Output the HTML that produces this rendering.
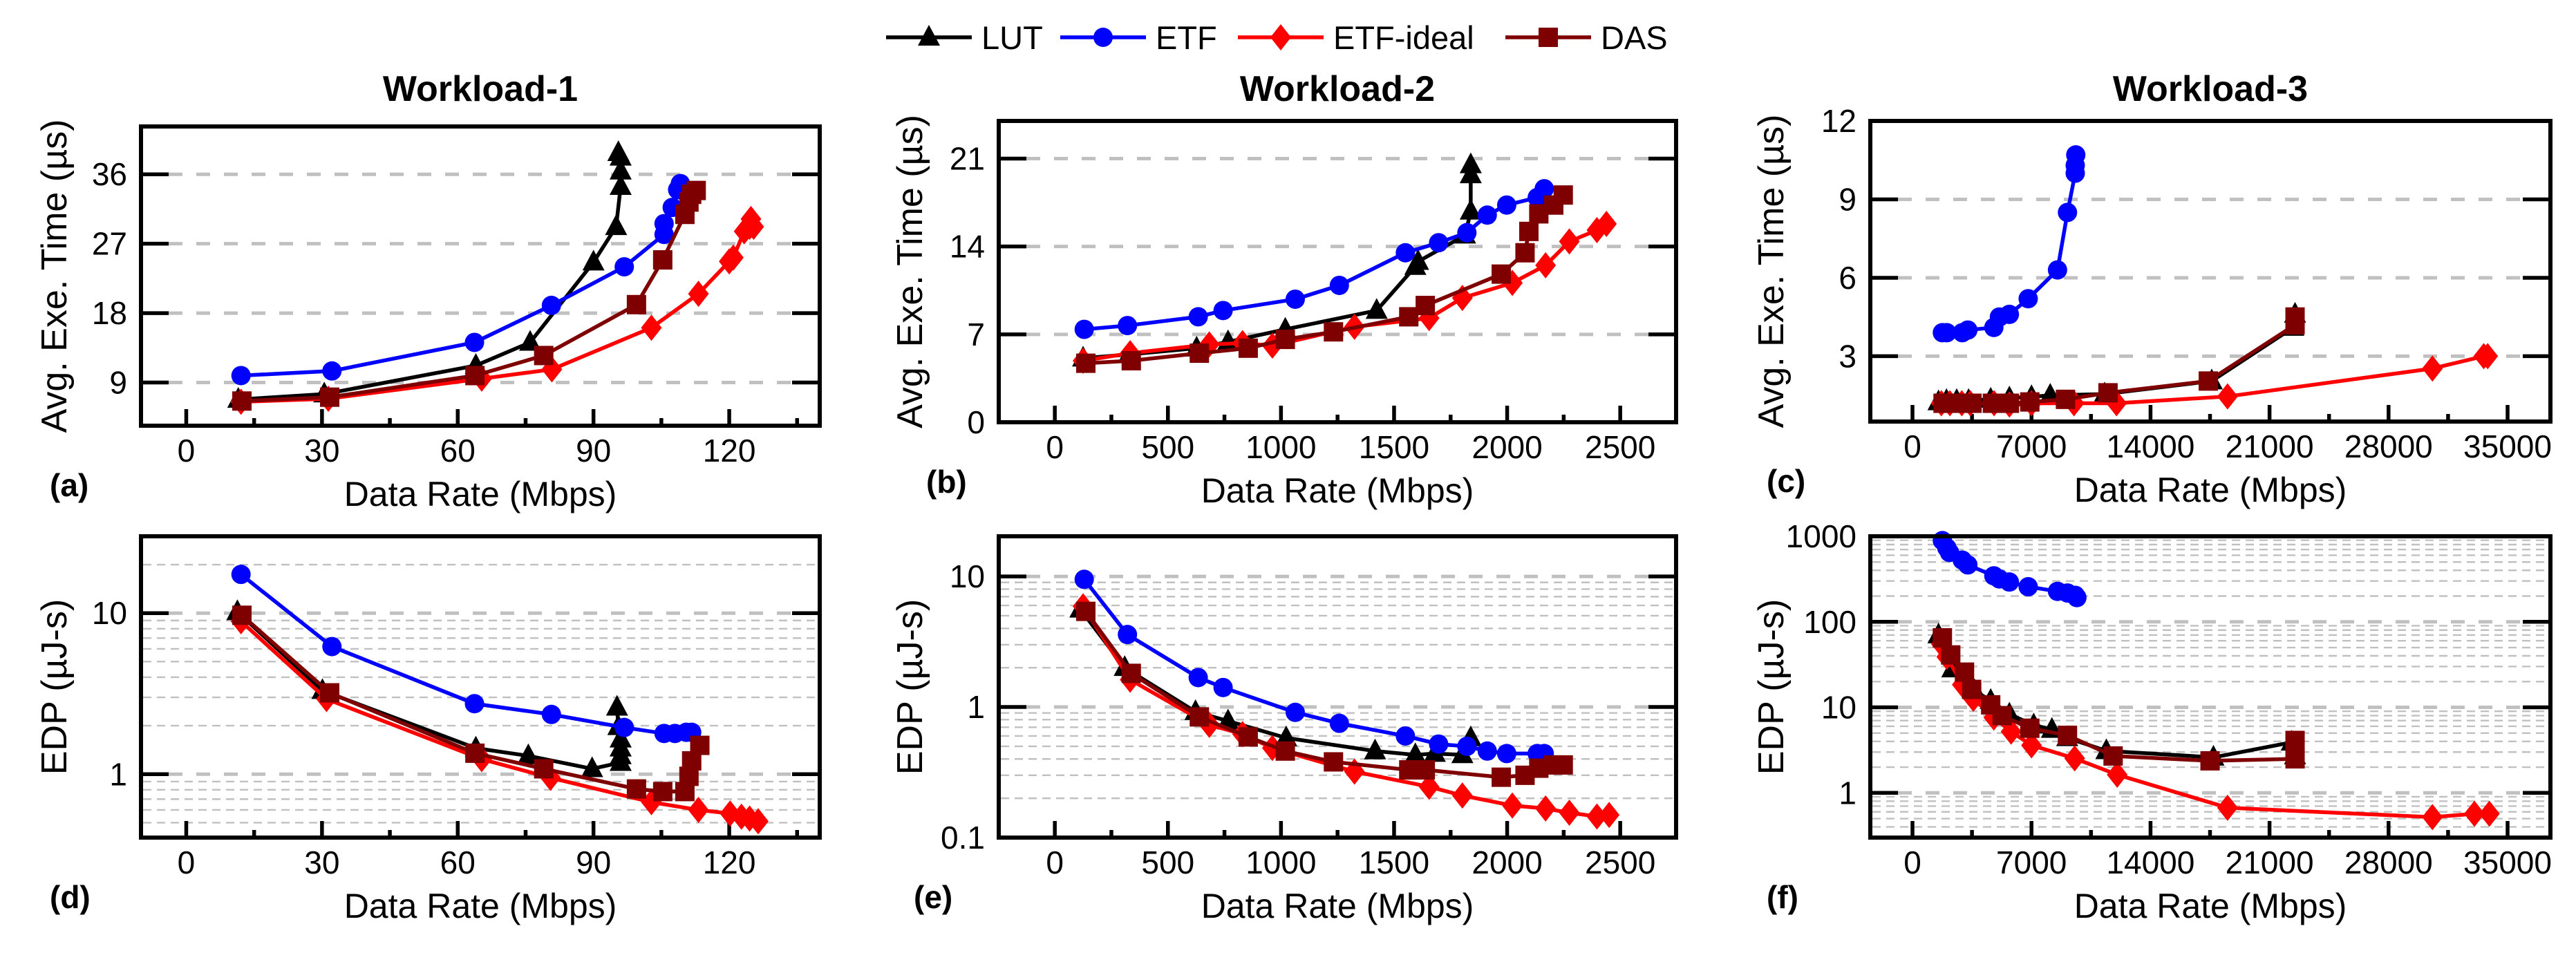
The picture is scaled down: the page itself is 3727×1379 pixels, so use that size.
<!DOCTYPE html>
<html><head><meta charset="utf-8">
<style>
html,body{margin:0;padding:0;background:#fff;}
svg{display:block;font-family:"Liberation Sans",Arial,sans-serif;}
</style></head>
<body>
<svg id="fig" width="3727" height="1379" viewBox="0 0 3727 1379" xmlns="http://www.w3.org/2000/svg"></svg>
<script>
// ---------- data ----------
const seriesNames = ["LUT","ETF","ETF-ideal","DAS"];
// Panel a: Workload-1 exec time
const aLUTx=[11.5,30.5,64,76,90,95,96,96,96,95.5];
const aLUTy=[6.8,7.5,11.2,14.2,24.6,29.2,34.4,36.4,38.2,38.8];
const aETFx=[12.1,32.2,63.7,80.7,96.8,105.6,105.6,107.4,108.6,109.2];
const aETFy=[9.9,10.5,14.2,19.0,24.0,28.2,29.6,31.7,34.0,34.8];
const aIDx=[12.1,31.4,65.3,80.8,102.8,113.2,120,120.9,123.3,124.5,124.8,125.4];
const aIDy=[6.5,6.9,9.5,10.7,16.1,20.5,24.7,25.2,28.6,29.2,30.2,29.2];
const aDASx=[12.3,31.7,63.8,79,99.5,105.3,110.2,111.1,111.7,112.7];
const aDASy=[6.6,7.1,9.9,12.5,19.1,24.9,30.8,32.4,33.4,33.9];
// Panel b: Workload-2 exec time
const bLUTx=[125,328,627,766,1019,1423,1594,1606,1814,1839,1839,1839];
const bLUTy=[5.1,5.4,5.9,6.4,7.4,8.9,12.4,12.8,14.9,16.8,19.7,20.5];
const bETFx=[130,321,634,744,1063,1258,1550,1697,1822,1912,1998,2133,2164];
const bETFy=[7.4,7.7,8.4,8.9,9.8,10.9,13.5,14.3,15.1,16.5,17.3,17.9,18.6];
const bIDx=[125,333,683,830,962,1325,1655,1802,2023,2170,2275,2397,2439];
const bIDy=[4.9,5.5,6.2,6.3,6.1,7.6,8.3,9.9,11.1,12.5,14.4,15.3,15.8];
const bDASx=[137,338,639,855,1019,1232,1565,1638,1974,2079,2096,2140,2206,2248];
const bDASy=[4.7,4.9,5.5,5.9,6.6,7.2,8.4,9.3,11.8,13.5,15.2,16.6,17.3,18.1];
// Panel c: Workload-3 exec time
const cLUTx=[1530,2000,2600,3300,4600,5700,7000,8100,11300,17600,22400,22500];
const cLUTy=[1.25,1.3,1.3,1.3,1.35,1.4,1.45,1.5,1.55,2.05,4.1,4.6];
const cETFx=[1758,2019,2930,3256,4786,5112,5698,6805,8530,9116,9572,9572,9605];
const cETFy=[3.9,3.9,3.9,4.0,4.1,4.5,4.6,5.2,6.3,8.5,10.0,10.3,10.7];
const cIDx=[1700,2200,2900,3400,4800,5700,7000,9500,12000,18530,30580,33600,33830];
const cIDy=[1.2,1.2,1.2,1.2,1.2,1.15,1.2,1.2,1.2,1.46,2.53,3.0,3.0];
const cDASx=[1800,2300,2900,3500,4700,5700,6900,9000,11500,17400,22500,22500];
const cDASy=[1.2,1.2,1.2,1.2,1.2,1.2,1.25,1.35,1.6,2.05,4.2,4.5];
// Panel d: Workload-1 EDP
const dLUTx=[11.3,30.1,64,75.6,89.7,96,96,96,96,95.5,95.2];
const dLUTy=[10.2,3.3,1.45,1.3,1.08,1.18,1.3,1.45,1.65,1.97,2.6];
const dETFx=[12.1,32.2,63.7,80.7,96.8,105.6,108,110.5,111.7];
const dETFy=[17.4,6.2,2.74,2.35,1.95,1.79,1.79,1.82,1.82];
const dIDx=[12.1,31,65.3,80.5,102.8,113.2,120.2,122.7,124.5,126.4];
const dIDy=[8.9,2.93,1.24,0.95,0.67,0.60,0.57,0.545,0.53,0.51];
const dDASx=[12.3,31.7,63.8,79,99.5,105.3,110.2,111.1,111.7,113.5];
const dDASy=[9.7,3.2,1.35,1.08,0.81,0.78,0.78,0.97,1.21,1.51];
// Panel e: Workload-2 EDP
const eLUTx=[113,309,622,766,1023,1416,1594,1680,1802,1839];
const eLUTy=[5.6,2.0,0.92,0.78,0.58,0.46,0.43,0.44,0.43,0.58];
const eETFx=[130,321,634,744,1063,1258,1550,1697,1822,1912,1998,2133,2164];
const eETFy=[9.5,3.59,1.68,1.41,0.91,0.75,0.60,0.52,0.50,0.46,0.44,0.44,0.44];
const eIDx=[125,333,683,830,962,1325,1655,1802,2023,2170,2275,2397,2451];
const eIDy=[5.9,1.62,0.73,0.62,0.485,0.32,0.245,0.21,0.176,0.167,0.155,0.145,0.149];
const eDASx=[137,338,639,855,1019,1232,1565,1638,1974,2079,2140,2206,2248];
const eDASy=[5.4,1.81,0.84,0.59,0.46,0.38,0.33,0.33,0.29,0.30,0.34,0.36,0.36];
// Panel f: Workload-3 EDP
const fLUTx=[1530,2340,3256,3650,4600,5700,7130,8200,9100,11400,17700,22300,22500];
const fLUTy=[70,28,20,15.6,12,8.3,6.2,5.5,4.4,3.1,2.6,3.9,2.7];
const fETFx=[1758,2019,2180,2930,3256,4786,5112,5698,6805,8530,9116,9572,9670];
const fETFy=[890,733,646,526,463,345,317,292,257,227,217,204,192];
const fIDx=[1700,2019,2930,3580,4786,5800,7000,9540,12040,18530,30580,33050,33930];
const fIDy=[55,39,18.4,12.6,7.6,5.2,3.6,2.53,1.63,0.67,0.52,0.57,0.57];
const fDASx=[1758,2250,3060,3480,4600,5270,6900,9116,11800,17500,22500,22500,22500];
const fDASy=[65,41,25.8,16.2,10.7,8.0,5.7,4.7,2.7,2.37,2.5,3.2,4.1];
// ticks
const aXTicks=[0,30,60,90,120], aYTicks=[9,18,27,36];
const bXTicks=[0,500,1000,1500,2000,2500], bYTicks=[0,7,14,21];
const cXTicks=[0,7000,14000,21000,28000,35000], cYTicks=[3,6,9,12];
const dYTicks=[1,10], eYTicks=[0.1,1,10], fYTicks=[1,10,100,1000];

// ---------- drawing ----------
const NS="http://www.w3.org/2000/svg";
const svg=document.getElementById('fig');
function mk(tag,attrs,parent){const e=document.createElementNS(NS,tag);for(const k in attrs)e.setAttribute(k,attrs[k]);(parent||svg).appendChild(e);return e;}
const colors=["#000000","#0000ff","#ff0000","#7f0000"];
const keys=["lut","etf","etf-ideal","das"];

function marker(g,kind,x,y,c){
  let m;
  if(kind===0){m=mk('polygon',{points:`${x},${y-18} ${x-16},${y+12} ${x+16},${y+12}`,fill:c},g);}
  else if(kind===1){m=mk('circle',{cx:x,cy:y,r:14,fill:c},g);}
  else if(kind===2){m=mk('polygon',{points:`${x},${y-19} ${x+15},${y} ${x},${y+19} ${x-15},${y}`,fill:c},g);}
  else {m=mk('rect',{x:x-14,y:y-14,width:28,height:28,fill:c},g);}
  return m;
}

function panel(p){
  const g=mk('g',{});
  
  
  const L=p.L,R=p.R,T=p.T,B=p.B;
  const sx=v=>L+(v-p.xmin)/(p.xmax-p.xmin)*(R-L);
  const sy=p.log? v=>B-(Math.log10(v)-Math.log10(p.ymin))/(Math.log10(p.ymax)-Math.log10(p.ymin))*(B-T)
                 : v=>B-(v-p.ymin)/(p.ymax-p.ymin)*(B-T);
  if(p.log){
    const lo=Math.floor(Math.log10(p.ymin)),hi=Math.ceil(Math.log10(p.ymax));
    for(let d=lo;d<hi;d++){for(let k=2;k<=9;k++){const v=k*Math.pow(10,d);if(v<=p.ymin||v>=p.ymax)continue;
      const l=mk('line',{x1:L+3,x2:R-3,y1:sy(v),y2:sy(v),stroke:'#c0c0c0','stroke-width':2.4,'stroke-dasharray':'12 8'},g);
      }}
  }
  p.yticks.forEach(v=>{
    const y=sy(v);
    if(y>T+3&&y<B-3){const l=mk('line',{x1:L+40,x2:R-40,y1:y,y2:y,stroke:'#c0c0c0','stroke-width':5,'stroke-dasharray':'20 20'},g);
      }
    mk('line',{x1:L,x2:L+40,y1:y,y2:y,stroke:'#000','stroke-width':5.5},g);
    mk('line',{x1:R-40,x2:R,y1:y,y2:y,stroke:'#000','stroke-width':5.5},g);
    const t=mk('text',{x:L-20,y:y+16,'text-anchor':'end','font-size':46},g);
    t.textContent=String(v);
    
  });
  const step=p.xticks[1]-p.xticks[0];
  for(let v=p.xticks[0];v<=p.xmax;v+=step/2){
    const major=Math.abs(v/step-Math.round(v/step))<1e-6;
    const x=sx(v);
    mk('line',{x1:x,x2:x,y1:B,y2:B-(major?24:11),stroke:'#000','stroke-width':5.5},g);
  }
  p.xticks.forEach(v=>{
    const t=mk('text',{x:sx(v),y:B+52,'text-anchor':'middle','font-size':46},g);
    t.textContent=String(v);
    
  });
  p.series.forEach((s,i)=>{
    const sg=mk('g',{},g);
    
    
    const pts=s[0].map((x,j)=>sx(x)+','+sy(s[1][j])).join(' ');
    const pl=mk('polyline',{points:pts,fill:'none',stroke:colors[i],'stroke-width':5.5,'stroke-linejoin':'round'},sg);
    
    
    s[0].forEach((x,j)=>{const m=marker(sg,i,sx(x),sy(s[1][j]),colors[i]);
      
      });
  });
  const fr=mk('rect',{x:L,y:T,width:R-L,height:B-T,fill:'none',stroke:'#000','stroke-width':6},g);
  
  const cx=(L+R)/2;
  const xl=mk('text',{x:cx,y:B+116,'text-anchor':'middle','font-size':50},g);
  xl.textContent='Data Rate (Mbps)';
  
  const yl=mk('text',{x:0,y:0,'text-anchor':'middle','font-size':52,transform:`translate(${p.ylx},${(T+B)/2}) rotate(-90)`},g);
  yl.textContent=p.ylabel;
  
  const pl=mk('text',{x:p.lx,y:B+102,'font-size':46,'font-weight':'bold'},g);
  pl.textContent='('+p.id+')';
  
  if(p.title){const tt=mk('text',{x:cx,y:146,'text-anchor':'middle','font-size':52,'font-weight':'bold'},g);
    tt.textContent=p.title;
    }
}
const ET='Avg. Exe. Time (\u00b5s)', ED='EDP (\u00b5J-s)';
panel({id:'a',L:204,R:1186,T:183,B:616,xmin:-10,xmax:140,ymin:3.4,ymax:42.2,xticks:aXTicks,yticks:aYTicks,ylabel:ET,ylx:96,lx:72,title:'Workload-1',
  series:[[aLUTx,aLUTy],[aETFx,aETFy],[aIDx,aIDy],[aDASx,aDASy]]});
panel({id:'b',L:1445,R:2425,T:175,B:611,xmin:-248,xmax:2747,ymin:0,ymax:24,xticks:bXTicks,yticks:bYTicks,ylabel:ET,ylx:1334,lx:1340,title:'Workload-2',
  series:[[bLUTx,bLUTy],[bETFx,bETFy],[bIDx,bIDy],[bDASx,bDASy]]});
panel({id:'c',L:2706,R:3690,T:175,B:610,xmin:-2480,xmax:37520,ymin:0.5,ymax:12,xticks:cXTicks,yticks:cYTicks,ylabel:ET,ylx:2580,lx:2556,title:'Workload-3',
  series:[[cLUTx,cLUTy],[cETFx,cETFy],[cIDx,cIDy],[cDASx,cDASy]]});
panel({id:'d',L:204,R:1186,T:776,B:1212,xmin:-10,xmax:140,ymin:0.404,ymax:30,log:true,xticks:aXTicks,yticks:dYTicks,ylabel:ED,ylx:96,lx:72,
  series:[[dLUTx,dLUTy],[dETFx,dETFy],[dIDx,dIDy],[dDASx,dDASy]]});
panel({id:'e',L:1445,R:2425,T:776,B:1212,xmin:-248,xmax:2747,ymin:0.1,ymax:20.3,log:true,xticks:bXTicks,yticks:eYTicks,ylabel:ED,ylx:1334,lx:1322,
  series:[[eLUTx,eLUTy],[eETFx,eETFy],[eIDx,eIDy],[eDASx,eDASy]]});
panel({id:'f',L:2706,R:3690,T:776,B:1212,xmin:-2480,xmax:37520,ymin:0.3,ymax:1000,log:true,xticks:cXTicks,yticks:fYTicks,ylabel:ED,ylx:2580,lx:2556,
  series:[[fLUTx,fLUTy],[fETFx,fETFy],[fIDx,fIDy],[fDASx,fDASy]]});

const lg=mk('g',{});


const legX=[1282,1534,1791,2178];
seriesNames.forEach((n,i)=>{
  const eg=mk('g',{},lg);
  
  
  const x=legX[i], y=54;
  mk('line',{x1:x,x2:x+124,y1:y,y2:y,stroke:colors[i],'stroke-width':5.5},eg);
  marker(eg,i,x+62,y,colors[i]);
  const t=mk('text',{x:x+138,y:y+17,'font-size':47},eg);
  t.textContent=n;
});
</script>
</body></html>
